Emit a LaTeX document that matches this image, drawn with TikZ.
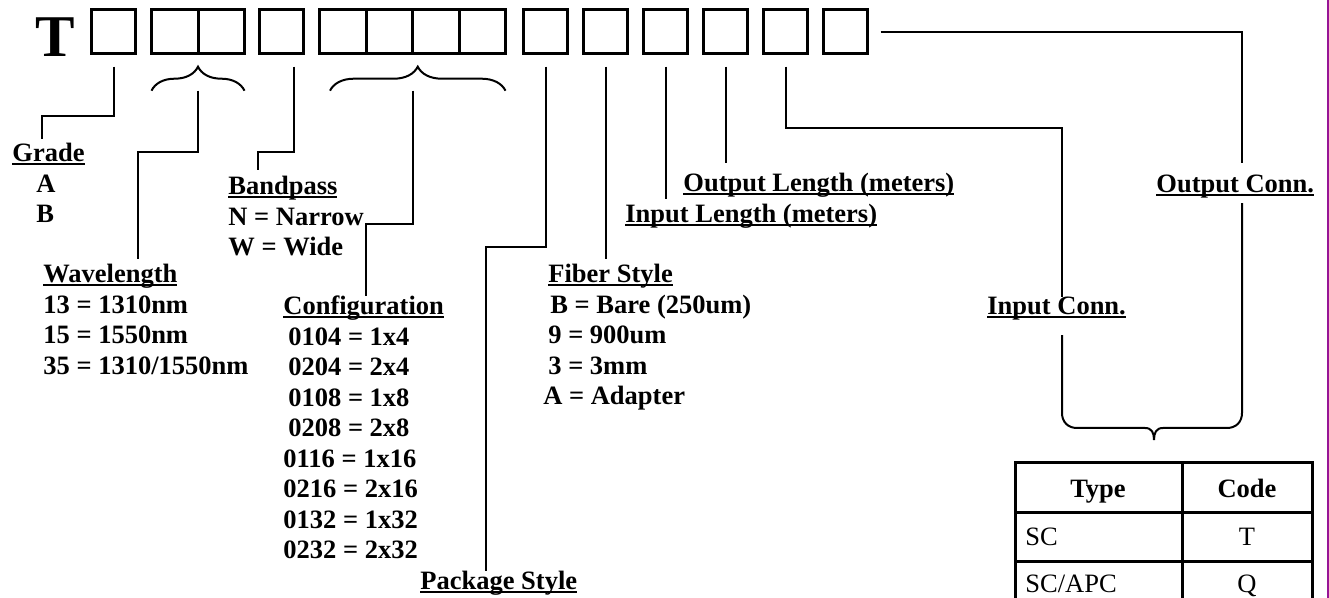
\documentclass[tikz,border=0pt]{standalone}
\usepackage{fontspec}
\setmainfont{Liberation Serif}
\usetikzlibrary{positioning,decorations.pathreplacing}
\definecolor{edgepurple}{RGB}{150,20,150}
\newcommand{\uln}[1]{\setbox0\hbox{#1}\rlap{\vrule width\wd0 height -0.6pt depth 1.6pt}\box0}
\tikzset{digit/.style={draw, line width=1.5pt, minimum width=22pt, minimum height=22pt, inner sep=0pt, outer sep=0pt}}
\tikzset{grp/.style={minimum width=23.25pt}}
\tikzset{conn/.style={draw, line width=1pt, shorten <=6.5pt}}
\tikzset{lbl/.style={inner sep=0pt, anchor=base west, align=left, font=\bfseries\fontsize{13.25pt}{15.25pt}\selectfont}}
\tikzset{brc/.style={draw, line width=1pt, decorate, decoration={brace, amplitude=12pt}}}
\tikzset{tbl/.style={draw, line width=1.5pt}}
\tikzset{cell/.style={inner sep=0pt, font=\fontsize{13.25pt}{15.25pt}\selectfont}}

\begin{document}
\begin{tikzpicture}[x=0.5pt, y=-0.5pt]
		\useasboundingbox (0,0) rectangle (1329,598);
		
		\node[inner sep=0pt, anchor=base west, font=\bfseries\fontsize{29.6pt}{32pt}\selectfont] (tt) at (35,57) {T};
		
		% code boxes
		\node[digit] (b1) at (113.5,31.7) {};
		\node[digit, grp] (b2) at (174.75,31.7) {};
		\node[digit, grp, right=0pt of b2] (b3) {};
		\node[digit] (b4) at (281.5,31.7) {};
		\node[digit, grp] (b5) at (342.75,31.7) {};
		\node[digit, grp, right=0pt of b5] (b6) {};
		\node[digit, grp, right=0pt of b6] (b7) {};
		\node[digit, grp, right=0pt of b7] (b8) {};
		\node[digit] (b9) at (545.5,31.7) {};
		\node[digit] (b10) at (605.5,31.7) {};
		\node[digit] (b11) at (665.5,31.7) {};
		\node[digit] (b12) at (725.5,31.7) {};
		\node[digit] (b13) at (785.5,31.7) {};
		\node[digit] (b14) at (845.5,31.7) {};
		
		\draw[brc] ([yshift=-18.5pt]b2.south west) -- ([yshift=-18.5pt]b3.south east);
		\draw[brc] ([xshift=5.25pt, yshift=-18.5pt]b5.south west) -- ([yshift=-18.5pt]b8.south east);
		
		% labels (base = last line)
		\node[lbl] (gr) at (12,223) {\uln{Grade}\\\hspace*{12pt}A\\\hspace*{12pt}B};
		\node[lbl] (wl) at (43,374.5) {\uln{Wavelength}\\13 = 1310nm\\15 = 1550nm\\35 = 1310/1550nm};
		\node[lbl] (bp) at (228,256) {\uln{Bandpass}\\N = Narrow\\W = Wide};
		\node[lbl] (cf) at (283,559) {\uln{Configuration}\\\hspace*{2.5pt}0104 = 1x4\\\hspace*{2.5pt}0204 = 2x4\\\hspace*{2.5pt}0108 = 1x8\\\hspace*{2.5pt}0208 = 2x8\\0116 = 1x16\\0216 = 2x16\\0132 = 1x32\\0232 = 2x32};
		\node[lbl] (ps) at (420,590) {\uln{Package Style}};
		\node[lbl] (fs) at (543,405) {\hspace*{2.5pt}\uln{Fiber Style}\\\hspace*{3.5pt}B = Bare (250um)\\\hspace*{2.5pt}9 = 900um\\\hspace*{2.5pt}3 = 3mm\\A = Adapter};
		\node[lbl] (il) at (625,223) {\uln{Input Length (meters)}};
		\node[lbl] (ol) at (683,192) {\uln{Output Length (meters)}};
		\node[lbl] (ic) at (987,315) {\uln{Input Conn.}};
		\node[lbl] (oc) at (1156,193) {\uln{Output Conn.}};
		
		% connectors
		\draw[conn, shorten >=2pt] (b1.south) |- (42,116) -- (42,0 |- gr.north);
		\draw[conn, shorten <=18.5pt, shorten >=2.5pt] (b2.south east) |- (138,152) -- (138,0 |- wl.north);
		\draw[conn, shorten >=3pt] ([xshift=6.25pt]b4.south) |- (258,152) -- (258,0 |- bp.north);
		\draw[conn, shorten <=18.5pt] (b6.south east) |- (366,224) -- (366,0 |- cf.north);
		\draw[conn] (b9.south) |- (486,247) -- (486,0 |- ps.north);
		\draw[conn, shorten >=2.5pt] (b10.south) -- (b10.south |- fs.north);
		\draw[conn, shorten >=2.5pt] (b11.south) -- (b11.south |- il.north);
		\draw[conn, shorten >=5pt] (b12.south) -- (b12.south |- ol.north);
		\draw[conn] (b13.south) |- (1062,128) -- (1062,0 |- ic.north);
		\draw[conn, shorten >=6pt] (b14.east) -| (1242,0 |- oc.north);
		\draw[conn, shorten <=7pt, shorten >=2pt] (1062,0 |- ic.south) -- (1062,413)
			.. controls (1062,422) and (1068,428) .. (1077,428) -- (1145,428)
			.. controls (1152,428) and (1154,433) .. (1154,440)
			.. controls (1154,433) and (1156,428) .. (1163,428) -- (1227,428)
			.. controls (1236,428) and (1242,422) .. (1242,413)
			-- (1242,0 |- oc.south);
		
		% connector table
		\draw[tbl] (1015,463) rectangle (1312,640);
		\draw[tbl] (1182,463) -- (1182,640);
		\draw[tbl] (1015,513) -- (1312,513);
		\draw[tbl] (1015,562) -- (1312,562);
		\draw[tbl] (1015,611) -- (1312,611);
		\node[cell, anchor=base, font=\bfseries\fontsize{13.25pt}{15.25pt}\selectfont] (th1) at (1098,498) {Type};
		\node[cell, anchor=base, font=\bfseries\fontsize{13.25pt}{15.25pt}\selectfont] (th2) at (1247,498) {Code};
		\node[cell, anchor=base west] (r1a) at (1025,546) {SC};
		\node[cell, anchor=base] (r1b) at (1247,546) {T};
		\node[cell, anchor=base west] (r2a) at (1025,593) {SC/APC};
		\node[cell, anchor=base] (r2b) at (1247,593) {Q};
		
		\draw[edgepurple, line width=1pt] (1328,0) -- (1328,598);
	\end{tikzpicture}
\end{document}
